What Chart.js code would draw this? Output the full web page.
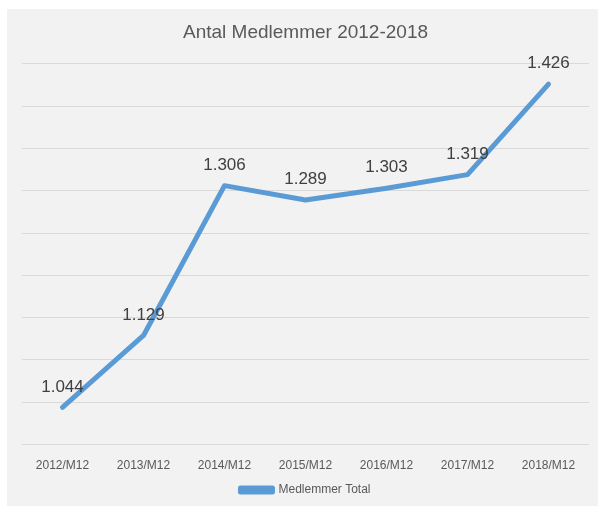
<!DOCTYPE html>
<html lang="da">
<head>
  <meta charset="UTF-8" />
  <title>Antal Medlemmer 2012-2018</title>
  <script src="https://cdn.jsdelivr.net/npm/chart.js"></script>
  <style>
    html, body { margin: 0; padding: 0; background: #ffffff; }
    #wrap { width: 598px; height: 506px; }
  </style>
</head>
<body>
  <div id="wrap"><canvas id="memberChart"></canvas></div>

  <script>
    // data
    const years = ['2012/M12', '2013/M12', '2014/M12', '2015/M12', '2016/M12', '2017/M12', '2018/M12'];
    const members = [1044, 1129, 1306, 1289, 1303, 1319, 1426];
    const yMin = 1000;
    const yMax = 1450;
    const yStep = 50;

    const fmt = v => (v / 1000).toFixed(3); // danish thousands: 1.044

    // grey panel behind the chart, like the spreadsheet chart area
    const panelBg = {
      id: 'panelBg',
      beforeDraw(chart) {
        const c = chart.ctx;
        c.save();
        c.fillStyle = '#ffffff';
        c.fillRect(0, 0, chart.width, chart.height);
        c.fillStyle = '#f2f2f2';
        c.fillRect(7, 9, chart.width - 7, chart.height - 9);
        c.restore();
      }
    };

    // value labels above each point
    const pointLabels = {
      id: 'pointLabels',
      afterDatasetsDraw(chart) {
        const c = chart.ctx;
        const meta = chart.getDatasetMeta(0);
        c.save();
        c.font = '17px "Liberation Sans", Arial, sans-serif';
        c.fillStyle = '#404040';
        c.textAlign = 'center';
        c.textBaseline = 'bottom';
        meta.data.forEach((pt, i) => {
          c.fillText(fmt(members[i]), pt.x, pt.y - 12);
        });
        c.restore();
      }
    };

    const ctx = document.getElementById('memberChart').getContext('2d');
    new Chart(ctx, {
      type: 'line',
      data: {
        labels: years,
        datasets: [{
          label: 'Medlemmer Total',
          data: members,
          borderColor: '#5b9bd5',
          backgroundColor: '#5b9bd5',
          borderWidth: 5,
          pointRadius: 0,
          tension: 0,
          borderCapStyle: 'round',
          borderJoinStyle: 'round'
        }]
      },
      options: {
        responsive: true,
        maintainAspectRatio: false,
        animation: false,
        layout: { padding: { left: 22, right: 9, top: 0, bottom: 0 } },
        plugins: {
          title: {
            display: true,
            text: 'Antal Medlemmer 2012-2018',
            color: '#595959',
            font: { family: '"Liberation Sans", Arial, sans-serif', size: 19, weight: 'normal' },
            padding: { top: 21, bottom: 20 }
          },
          legend: {
            position: 'bottom',
            labels: {
              color: '#595959',
              font: { family: '"Liberation Sans", Arial, sans-serif', size: 12 },
              boxWidth: 32,
              boxHeight: 4,
              padding: 5
            }
          },
          tooltip: { enabled: false }
        },
        scales: {
          x: {
            offset: true,
            grid: { display: false },
            border: { display: false },
            ticks: {
              color: '#595959',
              font: { family: '"Liberation Sans", Arial, sans-serif', size: 12 },
              maxRotation: 0,
              padding: 6
            }
          },
          y: {
            min: yMin,
            max: yMax,
            grid: { color: '#d9d9d9', lineWidth: 1, drawTicks: false },
            border: { display: false },
            ticks: { display: false, stepSize: yStep }
          }
        }
      },
      plugins: [panelBg, pointLabels]
    });
  </script>
</body>
</html>
